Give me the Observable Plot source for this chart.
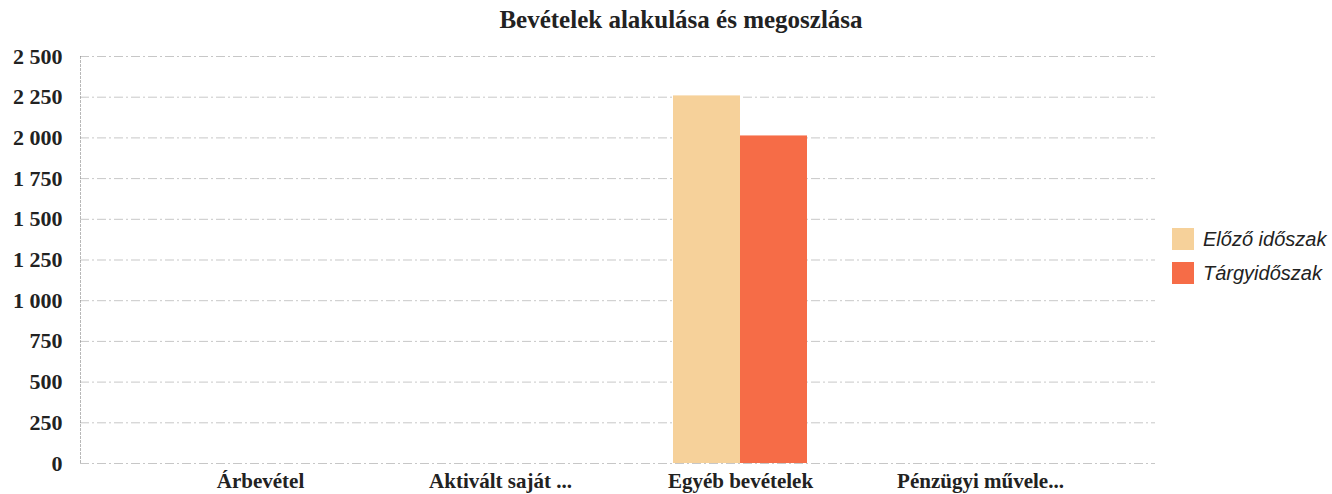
<!DOCTYPE html>
<html>
<head>
<meta charset="utf-8">
<script src="https://cdn.jsdelivr.net/npm/d3@7"></script>
<script src="https://cdn.jsdelivr.net/npm/@observablehq/plot@0.6"></script>
<style>
  html, body { margin: 0; padding: 0; background: #fff; }
  #wrap { position: relative; width: 1332px; height: 494px; background: #fff; overflow: hidden; }
  #title { position: absolute; top: 6px; left: 681px; transform: translateX(-50%); white-space: nowrap; z-index: 2;
           font-family: "Liberation Serif", "DejaVu Serif", serif; font-weight: bold; font-size: 25px; color: #222; }
  #chart { position: absolute; top: 0; left: 0; z-index: 1; }
  #legend { position: absolute; left: 1172px; top: 222px; z-index: 2; font-family: "Liberation Sans", Arial, sans-serif;
            font-style: italic; font-size: 20px; color: #222; }
  .item { display: flex; align-items: center; height: 34px; }
  .sw { width: 22px; height: 22px; margin-right: 9px; }
</style>
</head>
<body>
<div id="wrap">
  <div id="chart"></div>
  <div id="title">Bevételek alakulása és megoszlása</div>
  <div id="legend"></div>
</div>
<script>
const categories = ["Árbevétel", "Aktivált saját ...", "Egyéb bevételek", "Pénzügyi művele..."];
const seriesNames = ["Előző időszak", "Tárgyidőszak"];
const seriesColors = ["#f6d19a", "#f66c47"];
const previousValues = [0, 0, 2258, 0];
const currentValues = [0, 0, 2012, 0];
const yTicks = [0, 250, 500, 750, 1000, 1250, 1500, 1750, 2000, 2250, 2500];

const prevData = categories.map((c, i) => ({category: c, value: previousValues[i]}));
const currData = categories.map((c, i) => ({category: c, value: currentValues[i]}));

const fmt = d3.formatLocale({thousands: "\u00a0", grouping: [3], decimal: ","}).format(",");

const plot = Plot.plot({
  width: 1332,
  height: 494,
  marginTop: 56,
  marginBottom: 31,
  marginLeft: 80,
  marginRight: 177,
  style: {fontFamily: "Liberation Serif, DejaVu Serif, serif", fontWeight: "bold", fontSize: "21px", color: "#222", background: "transparent"},
  x: {domain: categories, range: [140, 1100], paddingInner: 0.442, paddingOuter: 0.221, label: null},
  y: {domain: [0, 2500], label: null},
  marks: [
    Plot.gridY(yTicks, {stroke: "#999", strokeOpacity: 0.55, strokeDasharray: "9,3,2,3"}),
    Plot.barY(prevData, {x: "category", y: "value", fill: seriesColors[0], insetRight: 67}),
    Plot.barY(currData, {x: "category", y: "value", fill: seriesColors[1], insetLeft: 67}),
    Plot.axisY(yTicks, {tickSize: 0, tickPadding: 18, tickFormat: fmt, fontWeight: "bold", fontSize: 22}),
    Plot.axisX({tickSize: 0, tickPadding: 10, fontWeight: "bold", fontSize: 21}),
    Plot.frame({anchor: "left", stroke: "#888", strokeOpacity: 0.6, strokeDasharray: "2,2"})
  ]
});
document.getElementById("chart").appendChild(plot);

const legend = document.getElementById("legend");
seriesNames.forEach((name, i) => {
  const item = document.createElement("div");
  item.className = "item";
  const sw = document.createElement("div");
  sw.className = "sw";
  sw.style.background = seriesColors[i];
  const label = document.createElement("span");
  label.textContent = name;
  item.appendChild(sw);
  item.appendChild(label);
  legend.appendChild(item);
});
</script>
</body>
</html>
